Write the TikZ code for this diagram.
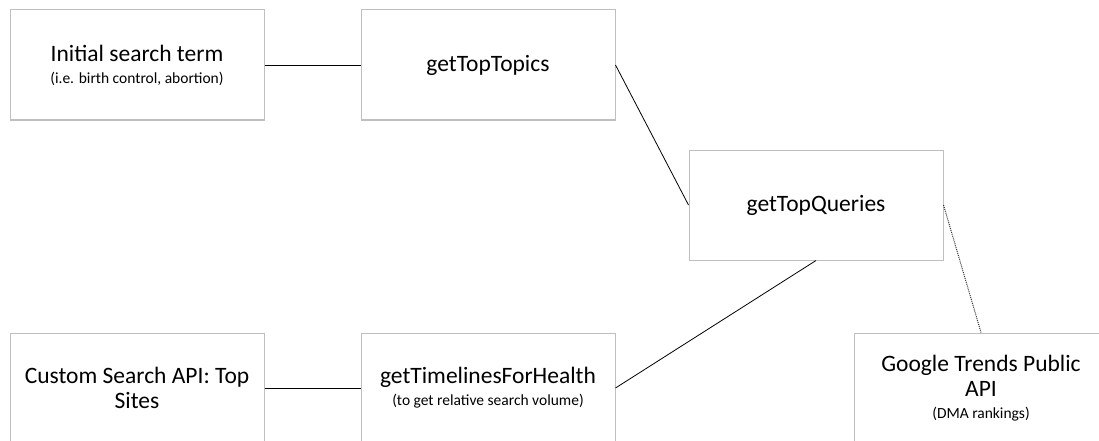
\documentclass[tikz,border=0pt]{standalone}
\usepackage{fontspec}
\setmainfont{Carlito}
\newcommand{\smallnote}[1]{{\fontsize{15.5}{18}\selectfont #1}}
\begin{document}
\begin{tikzpicture}[x=1pt, y=-1pt,
  every node/.style = {rectangle, draw=black!25, line width=1pt,
    minimum width=254pt, minimum height=110pt, align=center,
    font=\fontsize{23.5}{25}\selectfont},
  link/.style = {line width=0.8pt, black}]
  \path[use as bounding box, clip] (0,0) rectangle (1099,441);
  % top row
  \node (term) at (137,65) {Initial search term\\[-3pt]\smallnote{(i.e. birth control, abortion)}};
  \node (topics) at (488,65) {getTopTopics};
  \node (queries) at (816,205) {getTopQueries};
  % bottom row
  \node (sites) at (137,388) {Custom Search API: Top\\Sites};
  \node (timelines) at (488,388) {getTimelinesForHealth\\[-3pt]\smallnote{(to get relative search volume)}};
  \node (trends) at (981,388) {Google Trends Public\\API\\[-3pt]\smallnote{(DMA rankings)}};
  % connectors
  \draw[link] (term) -- (topics);
  \draw[link] (topics.east) -- (queries.west);
  \draw[link] (queries.south) -- (timelines.east);
  \draw[link] (sites) -- (timelines);
  \draw[link, line width=1pt, black!80, densely dotted] (queries.east) -- (trends.north);
\end{tikzpicture}
\end{document}
